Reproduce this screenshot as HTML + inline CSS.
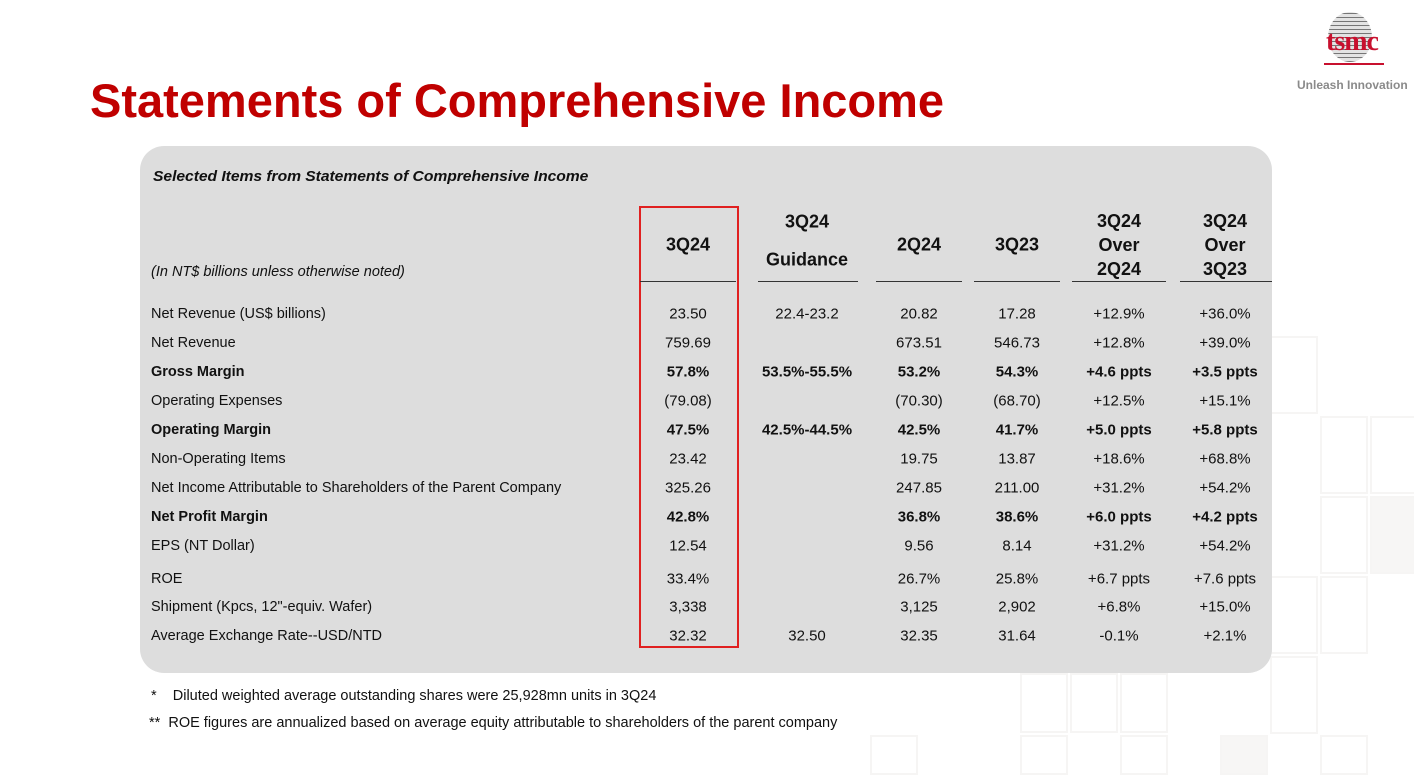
<!DOCTYPE html>
<html><head><meta charset="utf-8">
<style>
body{margin:0;width:1414px;height:765px;background:#fff;position:relative;overflow:hidden;font-family:"Liberation Sans",Arial,sans-serif;color:#111}
.a{position:absolute;white-space:nowrap}
.v{position:absolute;font-size:15px;transform:translate(-50%,-50%);white-space:nowrap}
.l{position:absolute;font-size:14.5px;left:151px;transform:translateY(-50%);white-space:nowrap}
.b{font-weight:bold}
.h{position:absolute;font-size:18px;font-weight:bold;transform:translate(-50%,-50%);white-space:nowrap}
.u{position:absolute;top:281px;height:1px;background:#333}
.sq{position:absolute;border:2px solid #f6f5f4;box-sizing:border-box}
</style></head><body>
<div class="sq" style="left:1270px;top:336px;width:48px;height:78px"></div>
<div class="sq" style="left:1320px;top:416px;width:48px;height:78px"></div>
<div class="sq" style="left:1370px;top:416px;width:48px;height:78px"></div>
<div class="sq" style="left:1320px;top:496px;width:48px;height:78px"></div>
<div class="sq" style="left:1370px;top:496px;width:48px;height:78px;background:#f7f6f5"></div>
<div class="sq" style="left:1270px;top:576px;width:48px;height:78px"></div>
<div class="sq" style="left:1320px;top:576px;width:48px;height:78px"></div>
<div class="sq" style="left:1270px;top:656px;width:48px;height:78px"></div>
<div class="sq" style="left:1020px;top:673px;width:48px;height:60px"></div>
<div class="sq" style="left:1070px;top:673px;width:48px;height:60px"></div>
<div class="sq" style="left:1120px;top:673px;width:48px;height:60px"></div>
<div class="sq" style="left:870px;top:735px;width:48px;height:40px"></div>
<div class="sq" style="left:1020px;top:735px;width:48px;height:40px"></div>
<div class="sq" style="left:1120px;top:735px;width:48px;height:40px"></div>
<div class="sq" style="left:1220px;top:735px;width:48px;height:40px;background:#f7f6f5"></div>
<div class="sq" style="left:1320px;top:735px;width:48px;height:40px"></div>

<div class="a" style="left:1312px;top:12px;width:80px;height:56px">
 <div style="position:absolute;left:16px;top:0;width:44px;height:50px;border-radius:50%;background:repeating-linear-gradient(0deg,#555 0 1px,#ddd 1px 4px),#ccc;opacity:.8"></div>
 <div style="position:absolute;left:0;top:14px;width:80px;text-align:center;font-family:'Liberation Serif',serif;font-weight:bold;font-size:28px;color:#c8102e;letter-spacing:-1px">tsmc</div>
 <div style="position:absolute;left:12px;top:51px;width:60px;height:2px;background:#c8102e"></div>
</div>
<div class="a" style="left:1297px;top:78px;font-size:12px;font-weight:bold;color:#8a8a8a">Unleash Innovation</div>

<div class="a" style="left:90px;top:73px;font-size:47px;font-weight:bold;color:#c00000">Statements of Comprehensive Income</div>

<div style="position:absolute;left:140px;top:146px;width:1132px;height:527px;background:#dddddd;border-radius:24px"></div>
<div class="a" style="left:153px;top:168px;font-size:15px;font-weight:bold;font-style:italic;letter-spacing:-0.05px;transform:scaleX(1.045);transform-origin:left">Selected Items from Statements of Comprehensive Income</div>
<div class="a" style="left:151px;top:264px;font-size:14.5px;font-style:italic">(In NT$ billions unless otherwise noted)</div>

<div style="position:absolute;left:639px;top:206px;width:96px;height:438px;border:2px solid #e02020"></div>

<div class="h" style="left:688px;top:245px">3Q24</div>
<div class="h" style="left:807px;top:222px">3Q24</div>
<div class="h" style="left:807px;top:260px">Guidance</div>
<div class="h" style="left:919px;top:245px">2Q24</div>
<div class="h" style="left:1017px;top:245px">3Q23</div>
<div class="h" style="left:1119px;top:245px;text-align:center;line-height:24px">3Q24<br>Over<br>2Q24</div>
<div class="h" style="left:1225px;top:245px;text-align:center;line-height:24px">3Q24<br>Over<br>3Q23</div>
<div class="u" style="left:640px;width:96px"></div>
<div class="u" style="left:758px;width:100px"></div>
<div class="u" style="left:876px;width:86px"></div>
<div class="u" style="left:974px;width:86px"></div>
<div class="u" style="left:1072px;width:94px"></div>
<div class="u" style="left:1180px;width:92px"></div>

<div id="rows"></div>
<script>
const labels=["Net Revenue (US$ billions)","Net Revenue","Gross Margin","Operating Expenses","Operating Margin","Non-Operating Items","Net Income Attributable to Shareholders of the Parent Company","Net Profit Margin","EPS (NT Dollar)","ROE","Shipment (Kpcs, 12\"-equiv. Wafer)","Average Exchange Rate--USD/NTD"];
const c3q24=["23.50","759.69","57.8%","(79.08)","47.5%","23.42","325.26","42.8%","12.54","33.4%","3,338","32.32"];
const guid=["22.4-23.2","","53.5%-55.5%","","42.5%-44.5%","","","","","","","32.50"];
const c2q24=["20.82","673.51","53.2%","(70.30)","42.5%","19.75","247.85","36.8%","9.56","26.7%","3,125","32.35"];
const c3q23=["17.28","546.73","54.3%","(68.70)","41.7%","13.87","211.00","38.6%","8.14","25.8%","2,902","31.64"];
const qoq=["+12.9%","+12.8%","+4.6 ppts","+12.5%","+5.0 ppts","+18.6%","+31.2%","+6.0 ppts","+31.2%","+6.7 ppts","+6.8%","-0.1%"];
const yoy=["+36.0%","+39.0%","+3.5 ppts","+15.1%","+5.8 ppts","+68.8%","+54.2%","+4.2 ppts","+54.2%","+7.6 ppts","+15.0%","+2.1%"];
const bold=[2,4,7];
const ys=[314,343,372,401,430,459,488,517,546,579,607,636];
const cols=[[c3q24,688],[guid,807],[c2q24,919],[c3q23,1017],[qoq,1119],[yoy,1225]];
const root=document.getElementById('rows');
labels.forEach((t,i)=>{
  const l=document.createElement('div');
  l.className='l'+(bold.includes(i)?' b':'');
  l.style.top=ys[i]+'px';l.textContent=t;
  
  
  root.appendChild(l);
  cols.forEach(([arr,x])=>{
    if(!arr[i])return;
    const d=document.createElement('div');
    d.className='v'+(bold.includes(i)?' b':'');
    d.style.left=x+'px';d.style.top=ys[i]+'px';d.textContent=arr[i];
    
    
    root.appendChild(d);
  });
});
</script>

<div class="a" style="left:151px;top:688px;font-size:14.5px">*&nbsp;&nbsp;&nbsp;&nbsp;Diluted weighted average outstanding shares were 25,928mn units in 3Q24</div>
<div class="a" style="left:149px;top:715px;font-size:14.5px">**&nbsp;&nbsp;ROE figures are annualized based on average equity attributable to shareholders of the parent company</div>
</body></html>
